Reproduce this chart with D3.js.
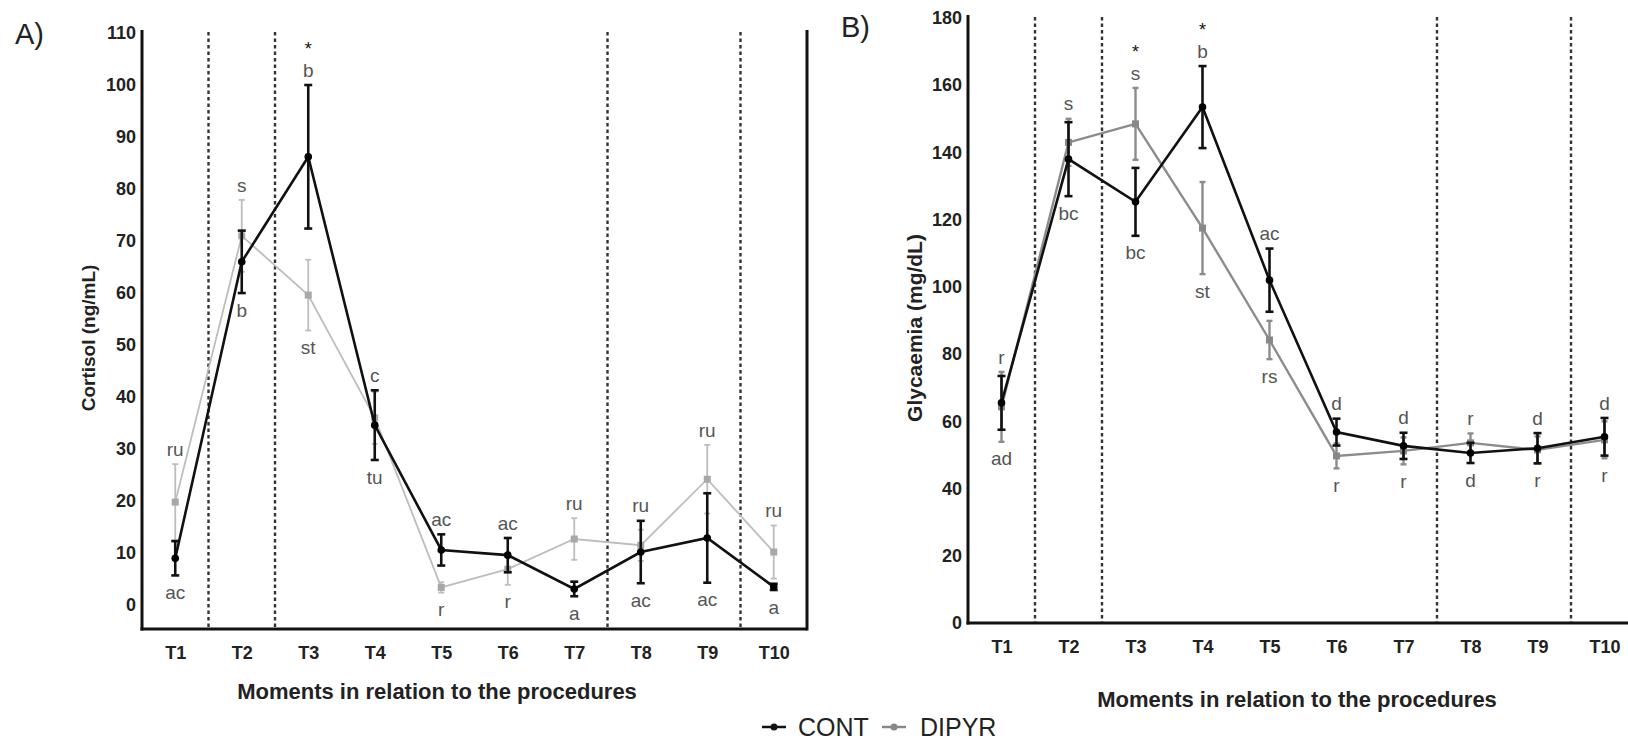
<!DOCTYPE html>
<html>
<head>
<meta charset="utf-8">
<script src="https://cdn.jsdelivr.net/npm/d3@7"></script>
<style>
  body { margin: 0; background: #fff; }
  svg { display: block; font-family: "Liberation Sans", Arial, sans-serif; }
</style>
</head>
<body>
<div id="chart"></div>
<script>
var times = ["T1", "T2", "T3", "T4", "T5", "T6", "T7", "T8", "T9", "T10"];
var dividersAfter = ["T1", "T2", "T7", "T9"];

// A) cortisol, ng/mL (mean and error)
var cortisolTicks = [0, 10, 20, 30, 40, 50, 60, 70, 80, 90, 100, 110];
var cortisolCont = [9, 66, 86.2, 34.6, 10.6, 9.6, 3.1, 10.2, 12.9, 3.5];
var cortisolContErr = [3.3, 6, 13.8, 6.7, 3, 3.3, 1.4, 6, 8.6, 0.6];
var cortisolDipyr = [19.8, 71, 59.6, 36, 3.4, 6.9, 12.7, 11.5, 24.2, 10.2];
var cortisolDipyrErr = [7.3, 6.9, 6.8, 5, 1, 3, 4, 3, 6.6, 5.1];
var cortisolTop = ["ru", "s", "b", "c", "ac", "ac", "ru", "ru", "ru", "ru"];
var cortisolBottom = ["ac", "b", "st", "tu", "r", "r", "a", "ac", "ac", "a"];
var cortisolStars = ["T3"];

// B) glycaemia, mg/dL
var glycTicks = [0, 20, 40, 60, 80, 100, 120, 140, 160, 180];
var glycCont = [65.5, 138, 125.3, 153.5, 102, 56.8, 52.7, 50.6, 52, 55.4];
var glycContErr = [8, 11, 10.1, 12.2, 9.4, 4, 3.9, 3, 4.5, 5.6];
var glycDipyr = [64.3, 143, 148.5, 117.5, 84.2, 49.7, 51.2, 53.6, 51.5, 54.5];
var glycDipyrErr = [10.4, 7, 10.7, 13.7, 5.7, 3.7, 4, 2.8, 4, 5.5];
var glycTop = ["r", "s", "s", "b", "ac", "d", "d", "r", "d", "d"];
var glycBottom = ["ad", "bc", "bc", "st", "rs", "r", "r", "d", "r", "r"];
var glycStars = ["T3", "T4"];

var svg = d3.select("#chart").append("svg")
  .attr("width", 1628)
  .attr("height", 743);

function drawPanel(p) {
  var g = svg.append("g");
  var x = d3.scalePoint().domain(times).range([p.left, p.right]).padding(0.5);
  var y = d3.scaleLinear().domain(p.domain).range([p.bottom, p.top]);

  // dotted separators
  g.selectAll(".divider")
    .data(dividersAfter)
    .enter().append("line")
    .attr("x1", function(d) { return x(d) + x.step() / 2; })
    .attr("x2", function(d) { return x(d) + x.step() / 2; })
    .attr("y1", p.axisTop + 2)
    .attr("y2", p.bottom)
    .attr("stroke", "#333")
    .attr("stroke-width", 2.4)
    .attr("stroke-dasharray", "3.5,3");

  // axes
  var ya = g.append("g")
    .attr("transform", "translate(" + p.left + ",0)")
    .call(d3.axisLeft(y).tickValues(p.ticks).tickSize(0).tickPadding(6));
  ya.select(".domain").remove();
  ya.selectAll("text")
    .attr("font-family", "Liberation Sans, Arial, sans-serif")
    .attr("font-size", 18).attr("font-weight", "bold").attr("fill", "#222");

  var xa = g.append("g")
    .attr("transform", "translate(0," + p.bottom + ")")
    .call(d3.axisBottom(x).tickSize(0).tickPadding(17));
  xa.select(".domain").remove();
  xa.selectAll("text")
    .attr("font-family", "Liberation Sans, Arial, sans-serif")
    .attr("font-size", 18).attr("font-weight", "bold").attr("fill", "#222");

  g.append("line")
    .attr("x1", p.left).attr("x2", p.left)
    .attr("y1", p.axisTop).attr("y2", p.bottom + 1.5)
    .attr("stroke", "#111").attr("stroke-width", 3);
  g.append("line")
    .attr("x1", p.left - 1.5).attr("x2", p.axisRight)
    .attr("y1", p.bottom).attr("y2", p.bottom)
    .attr("stroke", "#111").attr("stroke-width", 3);
  if (p.rightBorder) {
    g.append("line")
      .attr("x1", p.axisRight).attr("x2", p.axisRight)
      .attr("y1", p.axisTop).attr("y2", p.bottom + 1.5)
      .attr("stroke", "#111").attr("stroke-width", 3);
  }

  // series: DIPYR under, CONT over
  var series = [
    {vals: p.dipyr, err: p.dipyrErr, color: p.grey, marker: p.greyMarker, w: p.greyWidth, cap: 3, square: true},
    {vals: p.cont, err: p.contErr, color: "#111", marker: "#000", w: 2.6, cap: 4, square: false}
  ];

  series.forEach(function(s) {
    var pts = times.map(function(t, i) { return {t: t, v: s.vals[i], e: s.err[i]}; });
    var line = d3.line().x(function(d) { return x(d.t); }).y(function(d) { return y(d.v); });

    g.append("path")
      .datum(pts)
      .attr("d", line)
      .attr("fill", "none")
      .attr("stroke", s.color)
      .attr("stroke-width", s.w);

    var eb = g.selectAll(null).data(pts).enter().append("g").attr("stroke", s.color).attr("stroke-width", s.w);
    eb.append("line")
      .attr("x1", function(d) { return x(d.t); }).attr("x2", function(d) { return x(d.t); })
      .attr("y1", function(d) { return y(d.v + d.e); }).attr("y2", function(d) { return y(d.v - d.e); });
    eb.append("line")
      .attr("x1", function(d) { return x(d.t) - s.cap; }).attr("x2", function(d) { return x(d.t) + s.cap; })
      .attr("y1", function(d) { return y(d.v + d.e); }).attr("y2", function(d) { return y(d.v + d.e); });
    eb.append("line")
      .attr("x1", function(d) { return x(d.t) - s.cap; }).attr("x2", function(d) { return x(d.t) + s.cap; })
      .attr("y1", function(d) { return y(d.v - d.e); }).attr("y2", function(d) { return y(d.v - d.e); });

    if (s.square) {
      g.selectAll(null).data(pts).enter().append("rect")
        .attr("x", function(d) { return x(d.t) - 3.5; })
        .attr("y", function(d) { return y(d.v) - 3.5; })
        .attr("width", 7).attr("height", 7)
        .attr("fill", s.marker);
    } else {
      g.selectAll(null).data(pts).enter().append("circle")
        .attr("cx", function(d) { return x(d.t); })
        .attr("cy", function(d) { return y(d.v); })
        .attr("r", 3.8)
        .attr("fill", s.marker);
    }
  });

  // letters above and below each moment
  var hi = times.map(function(t, i) {
    return Math.min(y(p.cont[i] + p.contErr[i]), y(p.dipyr[i] + p.dipyrErr[i]));
  });
  var lo = times.map(function(t, i) {
    return Math.max(y(p.cont[i] - p.contErr[i]), y(p.dipyr[i] - p.dipyrErr[i]));
  });

  g.selectAll(null).data(p.topLabels).enter().append("text")
    .attr("x", function(d, i) { return x(times[i]); })
    .attr("y", function(d, i) { return hi[i] - 15; })
    .attr("dy", "0.35em")
    .attr("text-anchor", "middle")
    .attr("font-size", 19)
    .attr("fill", "#555")
    .text(function(d) { return d; });

  g.selectAll(null).data(p.bottomLabels).enter().append("text")
    .attr("x", function(d, i) { return x(times[i]); })
    .attr("y", function(d, i) { return lo[i] + 17; })
    .attr("dy", "0.35em")
    .attr("text-anchor", "middle")
    .attr("font-size", 19)
    .attr("fill", "#555")
    .text(function(d) { return d; });

  g.selectAll(null).data(p.stars).enter().append("text")
    .attr("x", function(d) { return x(d); })
    .attr("y", function(d) { return hi[times.indexOf(d)] - 30; })
    .attr("text-anchor", "middle")
    .attr("font-size", 18)
    .attr("fill", "#111")
    .text("*");

  // titles
  g.append("text")
    .attr("transform", "translate(" + p.yTitleX + "," + p.yTitleY + ") rotate(-90)")
    .attr("text-anchor", "middle")
    .attr("dy", "0.35em")
    .attr("font-size", p.yTitleSize)
    .attr("font-weight", "bold")
    .attr("fill", "#222")
    .text(p.yTitle);

  g.append("text")
    .attr("x", p.xTitleX)
    .attr("y", p.xTitleY)
    .attr("text-anchor", "middle")
    .attr("font-size", 22)
    .attr("font-weight", "bold")
    .attr("fill", "#222")
    .text("Moments in relation to the procedures");

  g.append("text")
    .attr("x", p.tagX)
    .attr("y", p.tagY)
    .attr("font-size", 29)
    .attr("fill", "#222")
    .text(p.tag);
}

drawPanel({
  tag: "A)", tagX: 15, tagY: 44,
  left: 142, right: 807, axisRight: 807, rightBorder: true,
  top: 33, bottom: 629, axisTop: 30, domain: [-4.6, 110],
  ticks: cortisolTicks,
  cont: cortisolCont, contErr: cortisolContErr,
  dipyr: cortisolDipyr, dipyrErr: cortisolDipyrErr,
  grey: "#bdbdbd", greyMarker: "#a8a8a8", greyWidth: 1.8,
  topLabels: cortisolTop, bottomLabels: cortisolBottom, stars: cortisolStars,
  yTitle: "Cortisol (ng/mL)", yTitleX: 88, yTitleY: 338, yTitleSize: 19,
  xTitleX: 437, xTitleY: 699
});

drawPanel({
  tag: "B)", tagX: 841, tagY: 37,
  left: 968, right: 1638, axisRight: 1640, rightBorder: false,
  top: 18, bottom: 623, axisTop: 15, domain: [0, 180],
  ticks: glycTicks,
  cont: glycCont, contErr: glycContErr,
  dipyr: glycDipyr, dipyrErr: glycDipyrErr,
  grey: "#8c8c8c", greyMarker: "#888", greyWidth: 2.4,
  topLabels: glycTop, bottomLabels: glycBottom, stars: glycStars,
  yTitle: "Glycaemia (mg/dL)", yTitleX: 915, yTitleY: 328, yTitleSize: 21,
  xTitleX: 1297, xTitleY: 707
});

// legend
var legendItems = [
  {name: "CONT", color: "#111", x: 762, textX: 798},
  {name: "DIPYR", color: "#888", x: 882, textX: 920}
];
var lg = svg.append("g");
lg.selectAll(".lgLine").data(legendItems).enter().append("line")
  .attr("x1", function(d) { return d.x; }).attr("x2", function(d) { return d.x + 24; })
  .attr("y1", 727).attr("y2", 727)
  .attr("stroke", function(d) { return d.color; })
  .attr("stroke-width", 2.5);
lg.selectAll(".lgDot").data(legendItems).enter().append("circle")
  .attr("cx", function(d) { return d.x + 12; }).attr("cy", 727).attr("r", 3.5)
  .attr("fill", function(d) { return d.color; });
lg.selectAll(".lgText").data(legendItems).enter().append("text")
  .attr("x", function(d) { return d.textX; }).attr("y", 736)
  .attr("font-size", 25)
  .attr("fill", "#222")
  .text(function(d) { return d.name; });
</script>
</body>
</html>
